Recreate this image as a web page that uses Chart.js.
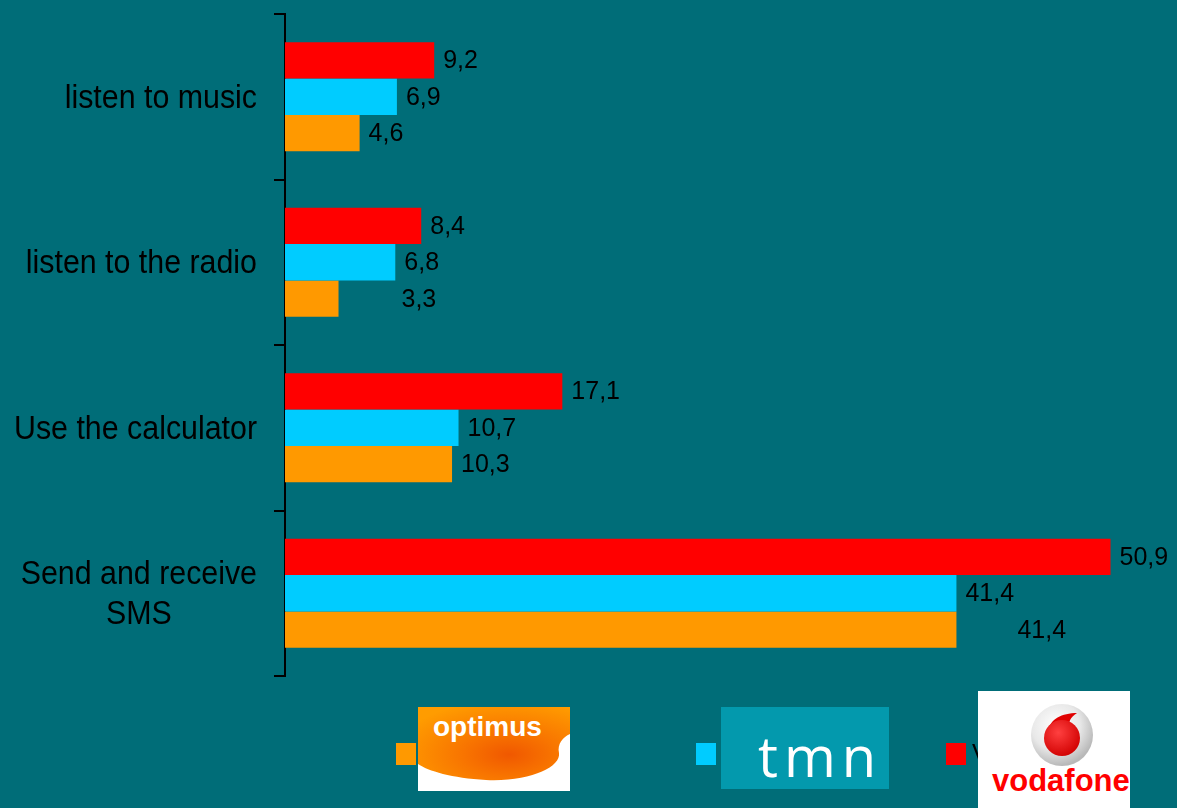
<!DOCTYPE html>
<html>
<head>
<meta charset="utf-8">
<script src="https://cdn.jsdelivr.net/npm/chart.js@4.4.1/dist/chart.umd.min.js"></script>
<style>
  html, body { margin: 0; padding: 0; background: #006d78; overflow: hidden; }
  #wrap { position: relative; width: 1177px; height: 808px; }
  #chart { position: absolute; left: 0; top: 0; }
  .sq { position: absolute; width: 20px; height: 22px; top: 743px; }
  .lbl { position: absolute; top: 739px; font: 25px "Liberation Sans", Arial, sans-serif; color: #000; }
  .logo { position: absolute; display: block; }
</style>
</head>
<body>
<div id="wrap">
  <canvas id="chart" width="1177" height="808"></canvas>

  <div class="sq" style="left:396px;background:#ff9900"></div>
  <div class="lbl" style="left:422px">Optimus</div>
  <svg class="logo" style="left:418px;top:707px" width="152" height="84" viewBox="0 0 152 84">
    <defs>
      <radialGradient id="og" cx="0.6" cy="0.65" r="0.75">
        <stop offset="0" stop-color="#f05800"/>
        <stop offset="0.4" stop-color="#f87400"/>
        <stop offset="1" stop-color="#ff9c00"/>
      </radialGradient>
    </defs>
    <rect width="152" height="84" fill="#fff"/>
    <path d="M0,0 H152 V27 C145,30 139,37 141,46 C143,60 112,75 68,73 C34,71 10,64 0,57 Z" fill="url(#og)"/>
    <text x="15" y="29" fill="#fff" font-family="Liberation Sans, Arial, sans-serif" font-weight="bold" font-size="28">optimus</text>
  </svg>

  <div class="sq" style="left:696px;background:#00ccff"></div>
  <div class="lbl" style="left:722px">TMN</div>
  <svg class="logo" style="left:721px;top:707px" width="168" height="82" viewBox="0 0 168 82">
    <rect width="168" height="82" fill="#0399ad"/>
    <text x="37" y="70" fill="#fff" font-family="Open Sans, sans-serif" font-size="56" letter-spacing="6">tmn</text>
  </svg>

  <div class="sq" style="left:946px;background:#ff0000"></div>
  <div class="lbl" style="left:972px">Vodafone</div>
  <svg class="logo" style="left:978px;top:691px" width="152" height="117" viewBox="0 0 152 117">
    <defs>
      <radialGradient id="vg" cx="0.4" cy="0.35" r="0.65">
        <stop offset="0" stop-color="#ffffff"/>
        <stop offset="0.6" stop-color="#e8e8e8"/>
        <stop offset="1" stop-color="#b8b8b8"/>
      </radialGradient>
      <radialGradient id="rg" cx="0.4" cy="0.35" r="0.7">
        <stop offset="0" stop-color="#ff4040"/>
        <stop offset="1" stop-color="#d00000"/>
      </radialGradient>
    </defs>
    <rect width="152" height="117" fill="#fff"/>
    <circle cx="84" cy="44" r="31" fill="url(#vg)"/>
    <path d="M70,40 C72,28 84,22 99,22 C92,27 90,31 92,36 Z" fill="#e00000"/>
    <circle cx="84" cy="47" r="18" fill="url(#rg)"/>
    <text x="14" y="100" fill="#ff0000" font-family="Liberation Sans, Arial, sans-serif" font-weight="bold" font-size="31">vodafone</text>
  </svg>
</div>

<script>
const categories = ["listen to music", "listen to the radio", "Use the calculator", ["Send and receive", "SMS"]];
const optimus = [4.6, 3.3, 10.3, 41.4];
const tmn = [6.9, 6.8, 10.7, 41.4];
const vodafone = [9.2, 8.4, 17.1, 50.9];

// a few value labels are pushed right in the original slide
const labelNudge = { optimus: [0, 54, 0, 52] };

const valueLabels = {
  id: "valueLabels",
  afterDatasetsDraw(chart) {
    const ctx = chart.ctx;
    ctx.save();
    ctx.font = '25px "Liberation Sans", Arial, sans-serif';
    ctx.fillStyle = "#000";
    ctx.textBaseline = "middle";
    ctx.textAlign = "left";
    chart.data.datasets.forEach((ds, di) => {
      const meta = chart.getDatasetMeta(di);
      const nudge = labelNudge[ds.key] || [];
      meta.data.forEach((bar, i) => {
        const txt = ds.data[i].toFixed(1).replace(".", ",");
        ctx.fillText(txt, bar.x + 9 + (nudge[i] || 0), bar.y + 1);
      });
    });
    ctx.restore();
  },
};

// category labels: right-aligned block, lines centred inside it,
// slightly narrow like the original slide font
const categoryLabels = {
  id: "categoryLabels",
  afterDraw(chart) {
    const ctx = chart.ctx;
    const y = chart.scales.y;
    const sx = 0.92;
    const right = 257;
    const lh = 40;
    ctx.save();
    ctx.font = '33px "Liberation Sans", Arial, sans-serif';
    ctx.fillStyle = "#000";
    ctx.textBaseline = "alphabetic";
    ctx.textAlign = "center";
    ctx.scale(sx, 1);
    categories.forEach((cat, i) => {
      const lines = Array.isArray(cat) ? cat : [cat];
      const w = Math.max(...lines.map((l) => ctx.measureText(l).width)) * sx;
      const cx = right - w / 2;
      const cy = y.getPixelForValue(i);
      lines.forEach((l, j) => {
        ctx.fillText(l, cx / sx, cy + 11 + (j - (lines.length - 1) / 2) * lh);
      });
    });
    ctx.restore();
  },
};

new Chart(document.getElementById("chart").getContext("2d"), {
  type: "bar",
  data: {
    labels: categories,
    datasets: [
      { key: "vodafone", label: "Vodafone", data: vodafone, backgroundColor: "#ff0000" },
      { key: "tmn", label: "TMN", data: tmn, backgroundColor: "#00ccff" },
      { key: "optimus", label: "Optimus", data: optimus, backgroundColor: "#ff9900" },
    ],
  },
  options: {
    indexAxis: "y",
    responsive: false,
    animation: false,
    categoryPercentage: 0.66,
    barPercentage: 1,
    layout: { padding: { top: 14, bottom: 132, left: 0, right: 0 } },
    plugins: { legend: { display: false }, tooltip: { enabled: false } },
    scales: {
      x: { display: false, min: 0, max: 55 },
      y: {
        afterFit: (scale) => { scale.width = 285; },
        border: { display: true, color: "#000", width: 2 },
        grid: { offset: true, drawOnChartArea: false, color: "#000", lineWidth: 2, tickLength: 11 },
        ticks: { display: false },
      },
    },
  },
  plugins: [valueLabels, categoryLabels],
});
</script>
</body>
</html>
